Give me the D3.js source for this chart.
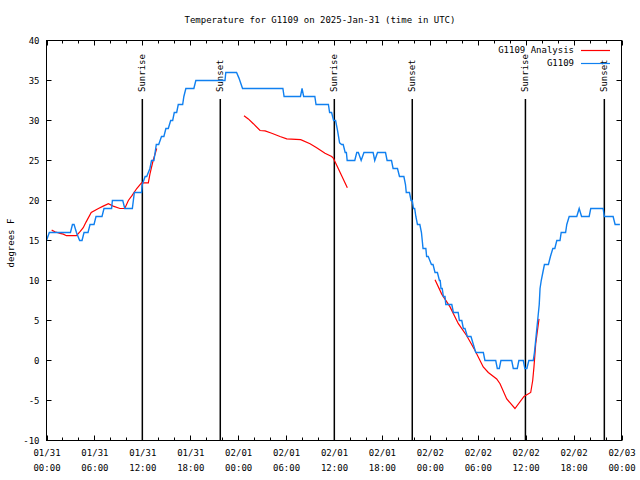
<!DOCTYPE html>
<html><head><meta charset="utf-8">
<script src="https://cdn.jsdelivr.net/npm/d3@7"></script>
<style>body{margin:0;background:#fff}svg{display:block}text{font-family:"DejaVu Sans Mono",monospace;font-size:9px;fill:#000}</style>
</head><body>
<svg id="c" width="640" height="480"></svg>
<script>
// ---- data (hours since 2025-01-31 00:00 UTC) ----
const titleText = "Temperature for G1109 on 2025-Jan-31 (time in UTC)";
const yLabel = "degrees F";
const yTicks = [-10, -5, 0, 5, 10, 15, 20, 25, 30, 35, 40];
const xTicks = [0, 6, 12, 18, 24, 30, 36, 42, 48, 54, 60, 66, 72];
const xTickDates = ["01/31","01/31","01/31","01/31","02/01","02/01","02/01","02/01","02/02","02/02","02/02","02/02","02/03"];
const xTickTimes = ["00:00","06:00","12:00","18:00","00:00","06:00","12:00","18:00","00:00","06:00","12:00","18:00","00:00"];
const sunHours = [12.0, 21.76, 36.04, 45.8, 59.97, 69.85];
const sunNames = ["Sunrise","Sunset","Sunrise","Sunset","Sunrise","Sunset"];
const seriesNames = ["G1109 Analysis", "G1109"];

const obsHours = [0.0,0.35,3.0,3.25,3.45,3.75,4.15,4.45,4.7,5.2,5.45,5.95,6.2,6.95,7.2,8.15,8.25,9.55,9.8,10.75,11.0,11.9,12.0,12.35,12.55,12.95,13.15,13.45,13.75,14.05,14.4,14.7,14.95,15.25,15.55,15.8,16.0,16.3,16.5,17.05,17.2,17.45,18.45,18.7,22.35,22.45,23.8,24.1,24.55,29.6,29.75,31.8,32.0,32.2,33.6,33.75,35.3,35.45,35.7,35.95,36.2,36.45,36.7,36.95,37.15,37.4,37.55,37.65,38.6,38.85,39.05,39.4,39.75,40.9,41.1,41.45,42.45,42.65,43.2,43.4,43.95,44.2,44.75,44.95,45.05,45.45,45.65,45.8,45.95,46.1,46.25,46.45,46.75,46.95,47.05,47.15,47.5,47.6,47.8,48.0,48.2,48.4,48.65,48.95,49.2,49.3,49.4,49.55,49.7,49.9,50.0,50.75,50.95,51.55,51.7,52.0,52.2,52.4,52.7,53.15,53.45,53.75,54.7,54.9,56.25,56.45,56.7,56.9,58.25,58.45,58.95,59.15,59.7,59.9,60.15,60.4,60.95,61.1,61.3,61.5,61.7,61.8,61.95,62.15,62.35,62.85,63.1,63.4,63.65,63.9,64.3,64.45,65.0,65.15,65.45,66.4,66.7,67.0,67.95,68.15,69.7,69.85,70.95,71.2,71.8];
const obsTemps = [15,16,16,17,17,16,15,15,16,16,17,17,18,18,19,19,20,20,19,19,21,21,22,23,23,24,25,25,27,27,28,28,29,29,30,30,31,31,32,32,33,34,34,35,35,36,36,35.3,34,34,33,33,34,33,33,32,32,31,31,30,30,28.7,27.2,27,27,26,26,25,25,26,26,25,26,26,25,26,26,25,25,24,24,23,23,22,21,21,20,20,19,19,18,17,17,16,15,14,14,13,13,12.5,12,12,11,11,10,10,9,9,8,8,7,7,6,6,5,5,4,4,3,3,2,1,1,0,0,-1,-1,0,0,-1,-1,0,0,-1,-1,0,0,1,3,5,7,9,10,11,12,12,13,14,14,15,15,16,16,17,18,18,19,18,18,19,19,18,18,17,17];

const anaSeg1Hours = [0.65,1.05,1.7,2.1,2.5,3.75,4.2,4.6,4.95,5.6,6.5,7.1,7.75,8.35,9.2,9.8,10.25,10.7,11.3,11.9,12.75,12.95,13.35,13.8];
const anaSeg1Temps = [16.3,16.1,15.9,15.8,15.6,15.6,16.1,16.6,17.3,18.5,19.0,19.3,19.6,19.3,19.0,19.0,20.0,20.6,21.5,22.2,22.2,23.3,25.0,26.5];
const anaSeg2Hours = [24.73,25.27,25.9,26.74,27.37,28.2,29.24,30.08,31.83,33.0,33.83,34.87,35.71,35.91,36.34,36.96,37.67];
const anaSeg2Temps = [30.6,30.2,29.6,28.75,28.7,28.4,28.0,27.7,27.6,27.1,26.6,25.9,25.5,25.3,24.4,23.1,21.6];
const anaSeg3Hours = [48.65,49.49,50.53,51.57,52.62,53.66,54.69,55.32,56.37,56.79,57.63,58.66,59.79,60.63,60.88,61.04,61.26,61.67];
const anaSeg3Temps = [10.1,8.3,6.7,4.6,3.1,1.25,-0.8,-1.5,-2.3,-2.9,-4.8,-6.0,-4.5,-4.0,-2.5,-0.8,2.1,5.2];

// ---- drawing ----
const svg = d3.select("#c");
const L = 46.5, R = 621.5, T = 40.5, B = 440.5;
const x = d3.scaleLinear().domain([0, 72]).range([L, R]);
const y = d3.scaleLinear().domain([-10, 40]).range([B, T]);
const colRed = "#ff0000", colBlue = "#1080f0";

svg.append("text").attr("x", 320).attr("y", 20.5).attr("text-anchor", "middle")
  .attr("dominant-baseline", "middle").text(titleText);
svg.append("text").attr("transform", "translate(11,243) rotate(-90)").attr("text-anchor", "middle")
  .attr("dominant-baseline", "middle").text(yLabel);

// axes with inward ticks
const minorX = d3.range(0, 73, 2).filter(h => h % 6 !== 0);
function tickLines(g, vals, scale, orient, len) {
  g.selectAll(null).data(vals).enter().append("line")
    .attr("stroke", "#000").attr("stroke-width", 1)
    .each(function(v) {
      const s = d3.select(this);
      if (orient === "bottom") s.attr("x1", Math.round(scale(v)) + 0.5).attr("x2", Math.round(scale(v)) + 0.5).attr("y1", B).attr("y2", B - len);
      if (orient === "top") s.attr("x1", Math.round(scale(v)) + 0.5).attr("x2", Math.round(scale(v)) + 0.5).attr("y1", T).attr("y2", T + len);
      if (orient === "left") s.attr("y1", scale(v)).attr("y2", scale(v)).attr("x1", L).attr("x2", L + len);
      if (orient === "right") s.attr("y1", scale(v)).attr("y2", scale(v)).attr("x1", R).attr("x2", R - len);
    });
}
const gt = svg.append("g");
tickLines(gt, xTicks, x, "bottom", 5);
tickLines(gt, xTicks, x, "top", 5);
tickLines(gt, minorX, x, "bottom", 3);
tickLines(gt, minorX, x, "top", 3);
tickLines(gt, yTicks, y, "left", 5);
tickLines(gt, yTicks, y, "right", 5);

// y tick labels via d3 axis (tick lines hidden)
const yAxis = svg.append("g").attr("transform", `translate(${L},0)`)
  .call(d3.axisLeft(y).tickValues(yTicks).tickSize(0).tickPadding(7).tickFormat(d => d));
yAxis.select(".domain").remove();
yAxis.selectAll("text").attr("font-family", "DejaVu Sans Mono").attr("font-size", 9).attr("dy", "0.35em");

// x tick labels (two lines)
const xAxis = svg.append("g").attr("transform", `translate(0,${B})`)
  .call(d3.axisBottom(x).tickValues(xTicks).tickSize(0).tickFormat(""));
xAxis.select(".domain").remove();
xAxis.selectAll(".tick").append("text").attr("text-anchor", "middle")
  .attr("font-family", "DejaVu Sans Mono").attr("font-size", 9).attr("fill", "#000")
  .each(function(d, i) {
    const t = d3.select(this);
    t.append("tspan").attr("x", 0).attr("y", 15.5).text(xTickDates[i]);
    t.append("tspan").attr("x", 0).attr("y", 30).text(xTickTimes[i]);
  });

// sunrise / sunset lines
const sg = svg.append("g");
sunHours.forEach((h, i) => {
  const xp = x(h);
  sg.append("line").attr("x1", xp).attr("x2", xp).attr("y1", 99).attr("y2", B)
    .attr("stroke", "#000").attr("stroke-width", 1.5);
  sg.append("text").attr("transform", `translate(${xp + 0.5},92) rotate(-90)`)
    .attr("text-anchor", "start").attr("dominant-baseline", "middle").text(sunNames[i]);
});

// data lines
const line = d3.line().x(d => x(d[0])).y(d => y(d[1]));
const clip = svg.append("clipPath").attr("id", "pc").append("rect")
  .attr("x", L).attr("y", T).attr("width", R - L).attr("height", B - T);
const dg = svg.append("g").attr("clip-path", "url(#pc)");
[[anaSeg1Hours, anaSeg1Temps], [anaSeg2Hours, anaSeg2Temps], [anaSeg3Hours, anaSeg3Temps]].forEach(([hs, ts]) => {
  dg.append("path").datum(hs.map((h, i) => [h, ts[i]])).attr("d", line)
    .attr("fill", "none").attr("stroke", colRed).attr("stroke-width", 1.2);
});
dg.append("path").datum(obsHours.map((h, i) => [h, obsTemps[i]])).attr("d", line)
  .attr("fill", "none").attr("stroke", colBlue).attr("stroke-width", 1.4);

// frame
svg.append("rect").attr("x", L).attr("y", T).attr("width", R - L).attr("height", B - T)
  .attr("fill", "none").attr("stroke", "#000").attr("stroke-width", 1);

// legend
const lg = svg.append("g");
[colRed, colBlue].forEach((c, i) => {
  const yy = 50.5 + i * 13;
  lg.append("text").attr("x", 574).attr("y", yy).attr("text-anchor", "end")
    .attr("dominant-baseline", "middle").text(seriesNames[i]);
  lg.append("line").attr("x1", 581).attr("x2", 610).attr("y1", yy).attr("y2", yy)
    .attr("stroke", c).attr("stroke-width", 1.2);
});
</script>
</body></html>
